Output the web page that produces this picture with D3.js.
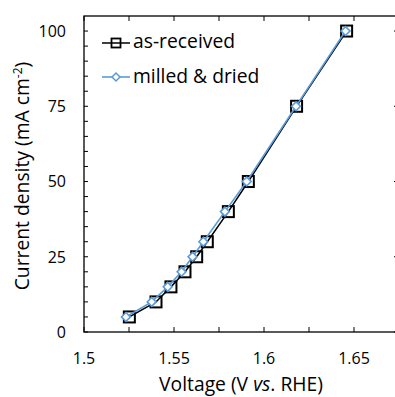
<!DOCTYPE html>
<html>
<head>
<meta charset="utf-8">
<script src="https://cdn.jsdelivr.net/npm/d3@7"></script>
<style>
  body { margin: 0; background: #fff; }
  svg text { font-family: "Open Sans", sans-serif; fill: #000; }
</style>
</head>
<body>
<div id="container"></div>
<script>
// data
const current = [5, 10, 15, 20, 25, 30, 40, 50, 75, 100];
const voltAsReceived = [1.5252, 1.540, 1.5483, 1.5561, 1.5626, 1.5685, 1.5802, 1.5913, 1.6181, 1.6459];
const voltMilled = [1.5233, 1.5376, 1.5465, 1.5542, 1.5603, 1.5663, 1.5783, 1.5904, 1.6178, 1.6453];
const xTicks = [1.5, 1.55, 1.6, 1.65];
const xMinor = [1.525, 1.575, 1.625];
const yTicks = [0, 25, 50, 75, 100];
const seriesNames = ["as-received", "milled & dried"];

const w = 395;
const h = 397;
const padL = 84, padT = 16, padB = 332;
const bigFont = 19.3;

let viz = d3.select("#container")
  .append("svg")
    .attr("width", w)
    .attr("height", h)
;

let xScale = d3.scaleLinear().domain([1.5, 1.675]).range([padL, padL + 0.175 * 1800]);
let yScale = d3.scaleLinear().domain([0, 105]).range([padB, padT]);
const padR = xScale(1.675);

// frame
viz.append("rect")
  .attr("x", padL).attr("y", padT)
  .attr("width", padR - padL).attr("height", padB - padT)
  .attr("fill", "none").attr("stroke", "#000").attr("stroke-width", 1.3);

// y ticks, every 5, inward on both sides
let yMinor = d3.range(0, 105, 5);
viz.selectAll(".ytl").data(yMinor).enter().append("line")
  .attr("x1", padL).attr("x2", padL + 4)
  .attr("y1", d => yScale(d)).attr("y2", d => yScale(d))
  .attr("stroke", "#000").attr("stroke-width", 1);
viz.selectAll(".ytr").data(yTicks).enter().append("line")
  .attr("x1", padR).attr("x2", padR - 5)
  .attr("y1", d => yScale(d)).attr("y2", d => yScale(d))
  .attr("stroke", "#000").attr("stroke-width", 1);

// x ticks inward, bottom and top
let allX = xTicks.concat(xMinor);
viz.selectAll(".xtb").data(allX).enter().append("line")
  .attr("x1", d => xScale(d)).attr("x2", d => xScale(d))
  .attr("y1", padB).attr("y2", padB - 5)
  .attr("stroke", "#000").attr("stroke-width", 1);
viz.selectAll(".xtt").data(allX).enter().append("line")
  .attr("x1", d => xScale(d)).attr("x2", d => xScale(d))
  .attr("y1", padT).attr("y2", padT + 5)
  .attr("stroke", "#000").attr("stroke-width", 1);

// tick labels
viz.selectAll(".yl").data(yTicks).enter().append("text")
  .attr("x", padL - 18).attr("y", d => yScale(d) + 5.8)
  .attr("text-anchor", "end").attr("font-size", 16)
  .text(d => d);
viz.selectAll(".xl").data(xTicks).enter().append("text")
  .attr("x", d => xScale(d)).attr("y", 363.5)
  .attr("text-anchor", "middle").attr("font-size", 16)
  .text(d => d);

// axis titles
let xt = viz.append("text").attr("x", 241).attr("y", 391)
  .attr("text-anchor", "middle").attr("font-size", bigFont);
xt.append("tspan").text("Voltage (V ");
xt.append("tspan").attr("font-style", "italic").text("vs");
xt.append("tspan").text(". RHE)");

let yt = viz.append("text")
  .attr("transform", "translate(29,176) rotate(-90)")
  .attr("text-anchor", "middle").attr("font-size", bigFont);
yt.append("tspan").text("Current density (mA cm");
yt.append("tspan").attr("font-size", 12).attr("dy", -7).text("-2");
yt.append("tspan").attr("dy", 7).text(")");

// lines
let rowsA = current.map((c, i) => ({v: voltAsReceived[i], j: c}));
let rowsM = current.map((c, i) => ({v: voltMilled[i], j: c}));
let lineMaker = d3.line().x(d => xScale(d.v)).y(d => yScale(d.j));

viz.append("path").datum(rowsA)
  .attr("d", lineMaker).attr("fill", "none")
  .attr("stroke", "#000").attr("stroke-width", 1.5);
viz.selectAll(".sq").data(rowsA).enter().append("rect")
  .attr("x", d => xScale(d.v) - 5.5).attr("y", d => yScale(d.j) - 5.5)
  .attr("width", 11).attr("height", 11)
  .attr("fill", "none").attr("stroke", "#000").attr("stroke-width", 2);

viz.append("path").datum(rowsM)
  .attr("d", lineMaker).attr("fill", "none")
  .attr("stroke", "#5b9bd5").attr("stroke-width", 1.6);
let diamond = d3.symbol().type(d3.symbolDiamond2).size(50);
viz.selectAll(".dm").data(rowsM).enter().append("path")
  .attr("d", diamond)
  .attr("transform", d => `translate(${xScale(d.v)},${yScale(d.j)})`)
  .attr("fill", "#fff").attr("stroke", "#5b9bd5").attr("stroke-width", 1.6);

// legend
let lg = viz.append("g");
lg.append("line").attr("x1", 102).attr("x2", 130).attr("y1", 43).attr("y2", 43)
  .attr("stroke", "#000").attr("stroke-width", 1.5);
lg.append("rect").attr("x", 111.5).attr("y", 38.5).attr("width", 9).attr("height", 9)
  .attr("fill", "none").attr("stroke", "#000").attr("stroke-width", 1.8);
lg.append("text").attr("x", 133).attr("y", 48).attr("font-size", bigFont).text(seriesNames[0]);
lg.append("line").attr("x1", 102).attr("x2", 130).attr("y1", 77).attr("y2", 77)
  .attr("stroke", "#5b9bd5").attr("stroke-width", 1.6);
lg.append("path").attr("d", d3.symbol().type(d3.symbolDiamond2).size(40)).attr("transform", "translate(116,77)")
  .attr("fill", "#fff").attr("stroke", "#5b9bd5").attr("stroke-width", 1.5);
lg.append("text").attr("x", 133).attr("y", 83).attr("font-size", bigFont).text(seriesNames[1]);
</script>
</body>
</html>
